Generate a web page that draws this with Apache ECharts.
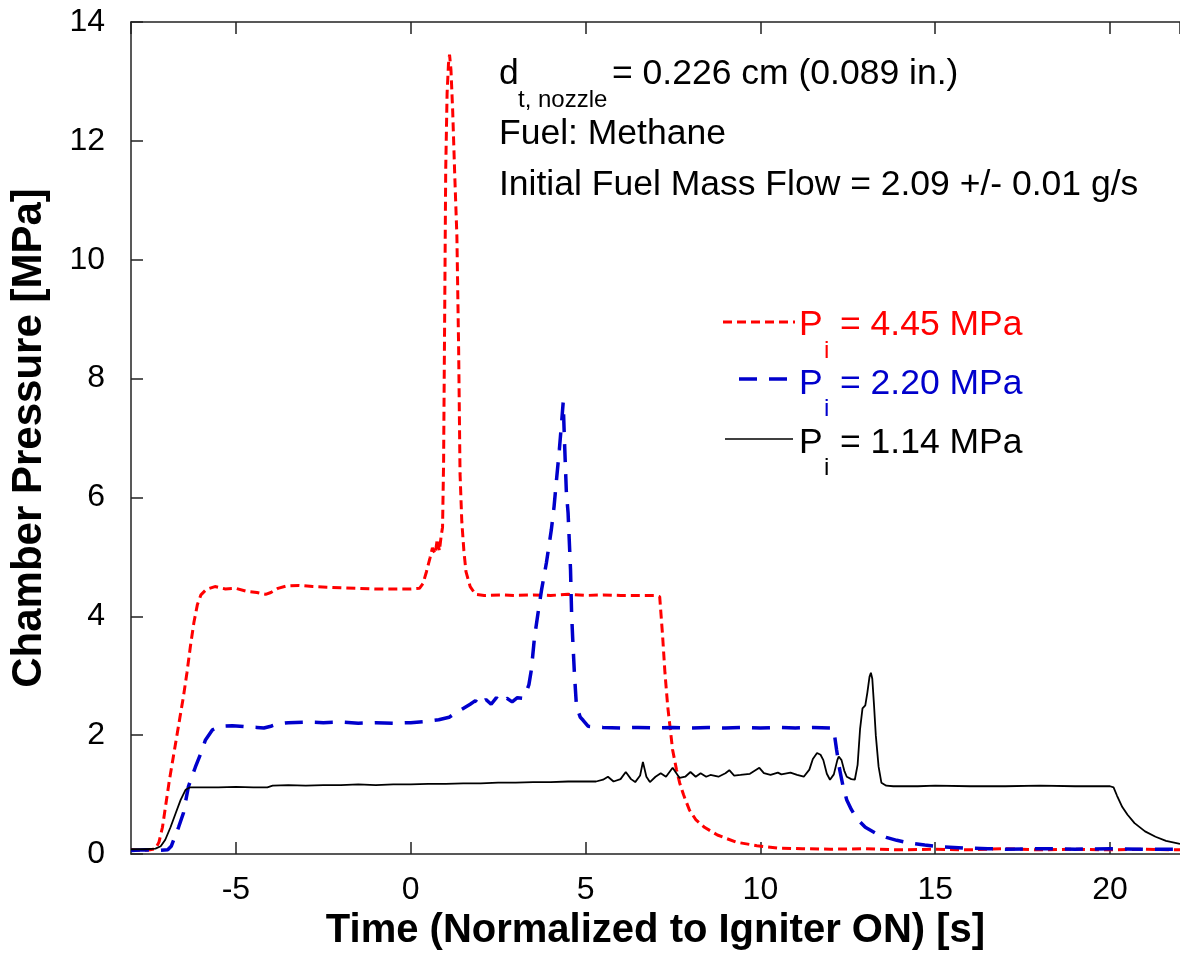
<!DOCTYPE html>
<html>
<head>
<meta charset="utf-8">
<script src="https://cdn.jsdelivr.net/npm/echarts@6/dist/echarts.min.js"></script>
<style>
html,body{margin:0;padding:0;background:#fff;}
#chart{width:1180px;height:959px;}
</style>
</head>
<body>
<div id="chart"></div>
<script>
// ---- Data (time [s], chamber pressure [MPa]) ----
const seriesNames = ['P_i = 4.45 MPa', 'P_i = 2.20 MPa', 'P_i = 1.14 MPa'];

const redT = [-8,-7.7,-7.45,-7.3,-7.2,-7.1,-7.0,-6.9,-6.8,-6.7,-6.6,-6.5,-6.4,-6.3,-6.2,-6.1,-6.0,-5.85,-5.6,-5.3,-5.0,-4.7,-4.4,-4.15,-4.0,-3.8,-3.55,-3.2,-2.8,-2.4,-2.0,-1.5,-1.0,-0.5,0,0.25,0.35,0.45,0.55,0.62,0.7,0.76,0.82,0.87,0.91,0.94,0.97,1.0,1.04,1.08,1.11,1.15,1.2,1.26,1.32,1.37,1.41,1.46,1.52,1.58,1.7,1.85,2.1,2.6,3.0,3.5,4.0,4.5,5.0,5.5,6.0,6.5,7.0,7.12,7.2,7.27,7.35,7.49,7.6,7.69,7.8,7.97,8.15,8.4,8.77,9.3,9.9,10.5,11.2,12,13,14,15,16,17,18,19,20,21,22];
const redP = [0.07,0.06,0.07,0.09,0.2,0.45,0.85,1.25,1.6,1.95,2.3,2.65,3.05,3.5,3.9,4.2,4.36,4.45,4.5,4.46,4.47,4.42,4.4,4.37,4.4,4.47,4.51,4.52,4.5,4.49,4.48,4.47,4.46,4.46,4.46,4.47,4.55,4.75,4.98,5.15,5.05,5.3,5.1,5.35,5.5,6.6,9.0,11.5,12.8,13.3,13.45,13.2,12.5,11.4,10.4,8.5,6.4,5.6,5.1,4.75,4.5,4.37,4.35,4.36,4.35,4.36,4.35,4.37,4.35,4.36,4.35,4.35,4.35,4.33,3.7,3.05,2.48,1.75,1.42,1.2,1.0,0.74,0.58,0.45,0.32,0.2,0.14,0.1,0.09,0.08,0.09,0.07,0.08,0.07,0.09,0.07,0.08,0.07,0.08,0.07];

const blueT = [-8,-7.6,-7.2,-6.95,-6.85,-6.75,-6.64,-6.5,-6.36,-6.26,-6.16,-6.0,-5.87,-5.67,-5.44,-5.1,-4.7,-4.4,-4.2,-4.0,-3.8,-3.5,-3.0,-2.5,-2.0,-1.5,-1.0,-0.5,0,0.4,0.8,1.1,1.3,1.5,1.7,1.85,2.0,2.15,2.3,2.45,2.6,2.75,2.9,3.05,3.2,3.3,3.38,3.45,3.54,3.64,3.74,3.88,4.02,4.1,4.16,4.25,4.32,4.36,4.4,4.45,4.5,4.57,4.6,4.63,4.68,4.74,4.85,4.93,5.07,5.5,6,6.5,7,7.5,8,8.5,9,9.5,10,10.5,11,11.5,12.05,12.12,12.18,12.27,12.37,12.47,12.6,12.75,13.0,13.3,13.6,13.9,14.3,14.7,15.2,15.8,16.5,17,18,19,20,21,22];
const blueP = [0.06,0.07,0.06,0.07,0.13,0.28,0.45,0.69,1.13,1.3,1.46,1.7,1.92,2.09,2.15,2.16,2.14,2.13,2.12,2.15,2.19,2.21,2.22,2.21,2.22,2.2,2.21,2.2,2.21,2.23,2.26,2.3,2.38,2.45,2.52,2.58,2.5,2.6,2.52,2.63,2.55,2.62,2.56,2.63,2.62,2.72,2.85,3.1,3.65,4.05,4.44,4.9,5.45,5.85,6.24,6.8,7.3,7.6,6.9,6.1,5.74,4.78,4.06,3.65,3.05,2.48,2.3,2.25,2.15,2.13,2.12,2.13,2.12,2.13,2.12,2.13,2.12,2.13,2.12,2.13,2.12,2.13,2.12,2.0,1.75,1.41,1.12,0.91,0.75,0.6,0.45,0.35,0.28,0.23,0.18,0.15,0.12,0.1,0.09,0.08,0.09,0.08,0.09,0.08,0.08];

const blackT = [-8,-7.6,-7.3,-7.15,-7.02,-6.87,-6.72,-6.58,-6.44,-6.32,-6.0,-5.5,-5.0,-4.5,-4.1,-3.95,-3.5,-3.0,-2.5,-2,-1.5,-1,-0.5,0,0.5,1,1.5,2,2.5,3,3.5,4,4.5,5,5.3,5.5,5.64,5.8,6.0,6.15,6.3,6.42,6.56,6.64,6.74,6.84,7.0,7.15,7.3,7.49,7.69,7.85,8.0,8.15,8.29,8.45,8.57,8.8,9.0,9.11,9.25,9.43,9.7,9.97,10.1,10.29,10.5,10.6,10.86,11.05,11.24,11.4,11.5,11.62,11.72,11.8,11.9,11.99,12.1,12.2,12.24,12.32,12.4,12.47,12.6,12.7,12.78,12.85,12.92,13.0,13.06,13.12,13.16,13.2,13.25,13.3,13.38,13.46,13.6,13.8,14.5,15,16,17,18,19,20,20.1,20.2,20.35,20.5,20.7,21.0,21.3,21.6,22];
const blackP = [0.08,0.08,0.09,0.13,0.24,0.45,0.69,0.91,1.08,1.12,1.12,1.12,1.13,1.12,1.12,1.15,1.16,1.15,1.16,1.16,1.17,1.16,1.17,1.17,1.18,1.18,1.19,1.19,1.2,1.2,1.21,1.21,1.22,1.22,1.22,1.25,1.3,1.22,1.26,1.38,1.26,1.21,1.32,1.55,1.3,1.21,1.3,1.36,1.3,1.45,1.28,1.3,1.38,1.3,1.36,1.3,1.33,1.3,1.36,1.41,1.32,1.33,1.35,1.45,1.36,1.33,1.37,1.34,1.37,1.33,1.3,1.42,1.6,1.7,1.67,1.58,1.35,1.25,1.34,1.58,1.64,1.58,1.4,1.3,1.26,1.25,1.5,2.1,2.45,2.5,2.72,2.98,3.05,2.95,2.5,2.0,1.47,1.2,1.15,1.14,1.14,1.15,1.14,1.14,1.15,1.14,1.14,1.12,0.98,0.79,0.66,0.52,0.38,0.29,0.22,0.17];

const xMin = -8, xMax = 22;
const yMin = 0, yMax = 14, yStep = 2;

const annotationLines = ['Fuel: Methane', 'Initial Fuel Mass Flow = 2.09 +/- 0.01 g/s'];

function zip(t, p) { return t.map((v, i) => [v, p[i]]); }

const FONT = 'Liberation Sans, Arial, Helvetica, sans-serif';
const RED = '#ff0000', BLUE = '#0000cc', BLACK = '#000000';

const chart = echarts.init(document.getElementById('chart'), null, {renderer: 'canvas'});

function txt(x, y, text, size, color) {
  return {type: 'text', x: x, y: y, silent: true,
    style: {text: text, fontSize: size, fontFamily: FONT, fill: color, align: 'left', verticalAlign: 'middle'}};
}

const axisLineStyle = {color: '#222', width: 1.5};

const option = {
  backgroundColor: '#ffffff',
  animation: false,
  grid: {left: 130, top: 22, right: -5, bottom: 105, containLabel: false},
  xAxis: [{
    type: 'value', min: xMin, max: xMax, position: 'bottom',
    name: 'Time (Normalized to Igniter ON) [s]', nameLocation: 'middle', nameGap: 57,
    nameTextStyle: {fontSize: 40, fontWeight: 'bold', fontFamily: FONT, color: '#000'},
    axisLine: {show: true, onZero: false, lineStyle: axisLineStyle},
    axisTick: {show: true, inside: true, length: 12, lineStyle: {color: '#222', width: 1.5}},
    axisLabel: {show: true, margin: 20, fontSize: 32, fontFamily: FONT, color: '#000', showMinLabel: false, showMaxLabel: false},
    splitLine: {show: false}
  }, {
    type: 'value', min: xMin, max: xMax, position: 'top',
    axisLine: {show: true, onZero: false, lineStyle: axisLineStyle},
    axisTick: {show: true, inside: true, length: 12, lineStyle: {color: '#222', width: 1.5}},
    axisLabel: {show: false},
    splitLine: {show: false}
  }],
  yAxis: [{
    type: 'value', min: yMin, max: yMax, interval: yStep,
    name: 'Chamber Pressure [MPa]', nameLocation: 'middle', nameGap: 81, nameRotate: 90,
    nameTextStyle: {fontSize: 42, fontWeight: 'bold', fontFamily: FONT, color: '#000'},
    axisLine: {show: true, onZero: false, lineStyle: axisLineStyle},
    axisTick: {show: true, inside: true, length: 12, lineStyle: {color: '#222', width: 1.5}},
    axisLabel: {show: true, margin: 26, fontSize: 32, fontFamily: FONT, color: '#000'},
    splitLine: {show: false}
  }],
  series: [{
    name: seriesNames[0], type: 'line', xAxisIndex: 0, data: zip(redT, redP),
    showSymbol: false, symbol: 'none',
    lineStyle: {color: RED, width: 3, type: [9, 5]}, z: 2
  }, {
    name: seriesNames[1], type: 'line', xAxisIndex: 0, data: zip(blueT, blueP),
    showSymbol: false, symbol: 'none',
    lineStyle: {color: BLUE, width: 3.5, type: [18, 12]}, z: 3
  }, {
    name: seriesNames[2], type: 'line', xAxisIndex: 0, data: zip(blackT, blackP),
    showSymbol: false, symbol: 'none',
    lineStyle: {color: BLACK, width: 1.8}, z: 4
  }],
  graphic: [
    // annotation block
    txt(499, 74, 'd', 35.5, '#000'),
    txt(518, 100, 't, nozzle', 24, '#000'),
    txt(612, 74, '= 0.226 cm (0.089 in.)', 35.5, '#000'),
    txt(499, 134, annotationLines[0], 35.5, '#000'),
    txt(499, 185, annotationLines[1], 35.5, '#000'),
    // legend
    {type: 'line', silent: true, shape: {x1: 723, y1: 322, x2: 795, y2: 322}, style: {stroke: RED, lineWidth: 3, lineDash: [9, 5]}},
    {type: 'line', silent: true, shape: {x1: 739, y1: 379, x2: 788, y2: 379}, style: {stroke: BLUE, lineWidth: 3.5, lineDash: [18, 12]}},
    {type: 'line', silent: true, shape: {x1: 725, y1: 439, x2: 793, y2: 439}, style: {stroke: BLACK, lineWidth: 1.6}},
    txt(799, 325, 'P', 35.5, RED), txt(824, 351, 'i', 24, RED), txt(840, 325, '= 4.45 MPa', 35.5, RED),
    txt(799, 384, 'P', 35.5, BLUE), txt(824, 409, 'i', 24, BLUE), txt(840, 384, '= 2.20 MPa', 35.5, BLUE),
    txt(799, 443, 'P', 35.5, BLACK), txt(824, 468, 'i', 24, BLACK), txt(840, 443, '= 1.14 MPa', 35.5, BLACK)
  ]
};
chart.setOption(option);
</script>
</body>
</html>
